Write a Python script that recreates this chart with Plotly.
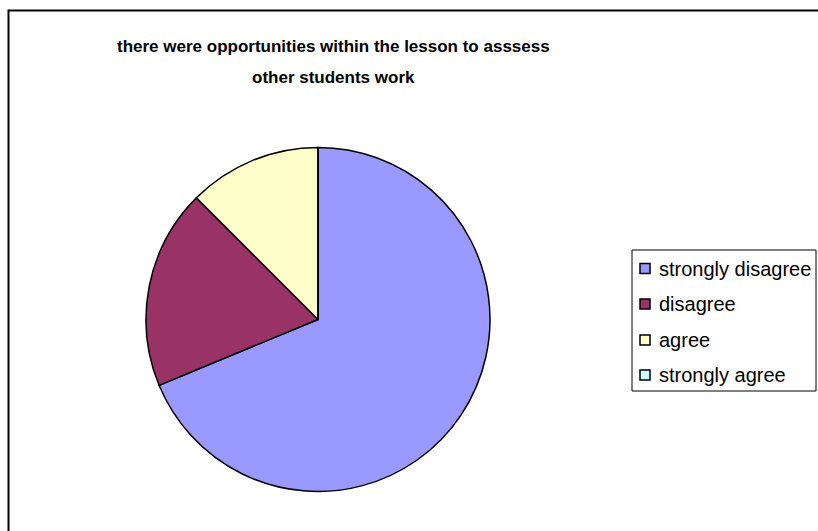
import plotly.graph_objects as go

# Survey responses
categories = ["strongly disagree", "disagree", "agree", "strongly agree"]
counts = [11, 3, 2, 0]
colors = ["#9999FF", "#993366", "#FFFFCC", "#CCFFFF"]
title_lines = ["there were opportunities within the lesson to asssess",
               "other students work"]

W, H = 818, 531

def px(x):
    return x / W

def py(y):
    return 1 - y / H

# Pie placement (pixels)
cx, cy, r = 318, 319.5, 172

fig = go.Figure()
fig.add_trace(go.Pie(
    labels=categories,
    values=counts,
    marker=dict(colors=colors, line=dict(color="black", width=1.5)),
    sort=False,
    direction="clockwise",
    rotation=0,
    textinfo="none",
    hoverinfo="label+value+percent",
    showlegend=False,
    domain=dict(x=[px(cx - r), px(cx + r)], y=[py(cy + r), py(cy - r)]),
))

shapes = [
    # outer chart frame
    dict(type="rect", xref="paper", yref="paper",
         x0=px(8.5), x1=px(830), y0=py(545), y1=py(10.5),
         line=dict(color="black", width=2), fillcolor="rgba(0,0,0,0)"),
    # legend box
    dict(type="rect", xref="paper", yref="paper",
         x0=px(632), x1=px(816), y0=py(391), y1=py(250),
         line=dict(color="black", width=1), fillcolor="white"),
]

# Two-line bold title
annotations = []
for line, yy in zip(title_lines, [46, 78]):
    annotations.append(dict(text="<b>" + line + "</b>", xref="paper", yref="paper",
                            x=px(333), y=py(yy), xanchor="center", yanchor="middle",
                            showarrow=False,
                            font=dict(family="Liberation Sans, Arial", size=17, color="black")))

# Legend entries
row_y = [268.5, 304, 340, 375]
for name, col, yy in zip(categories, colors, row_y):
    shapes.append(dict(type="rect", xref="paper", yref="paper",
                       x0=px(640), x1=px(650), y0=py(yy + 5), y1=py(yy - 5),
                       line=dict(color="black", width=1.5), fillcolor=col))
    annotations.append(dict(text=name, xref="paper", yref="paper",
                            x=px(657), y=py(yy), xanchor="left", yanchor="middle",
                            showarrow=False,
                            font=dict(family="Liberation Sans, Arial", size=20, color="black")))

fig.update_layout(
    width=W, height=H,
    margin=dict(l=0, r=0, t=0, b=0),
    paper_bgcolor="white",
    plot_bgcolor="white",
    shapes=shapes,
    annotations=annotations,
)

fig.write_html("out.html")
